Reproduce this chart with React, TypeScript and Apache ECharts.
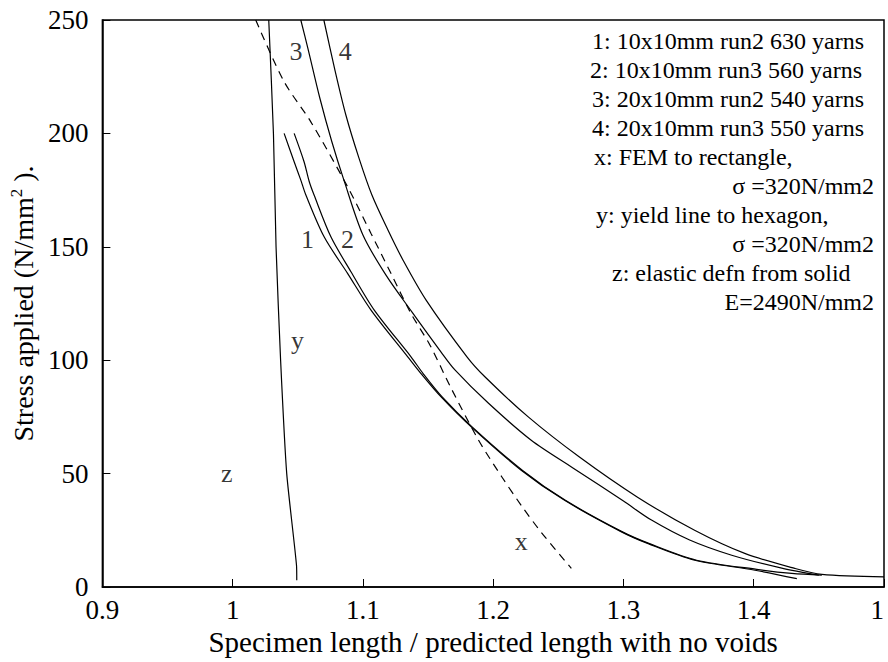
import React, { useEffect, useRef } from "react";
import * as echarts from "echarts";

// ---- data ----
const xTickLabels = ["0.9", "1", "1.1", "1.2", "1.3", "1.4", "1"];
const yTickValues = [0, 50, 100, 150, 200, 250];

const curve1X = [1.0395, 1.0472, 1.0523, 1.0562, 1.0702, 1.0882, 1.1062, 1.1344, 1.1446, 1.16, 1.1831, 1.2215, 1.2548, 1.2985, 1.319, 1.3548, 1.401, 1.4331];
const curve1Y = [200, 187.5, 179.4, 172.8, 154.4, 138.3, 122.1, 101.5, 94.1, 83.8, 70.6, 51.5, 38.2, 24.3, 19.1, 11.8, 7.4, 3.7];

const curve2X = [1.0472, 1.0548, 1.0587, 1.0625, 1.0754, 1.0908, 1.1087, 1.1369, 1.1462, 1.1608, 1.1838, 1.2223, 1.2554, 1.2992, 1.32, 1.3562, 1.4023, 1.4292, 1.4523];
const curve2Y = [200, 187.5, 178.9, 172.8, 154.4, 139.0, 122.1, 101.5, 94.1, 83.8, 70.6, 51.5, 38.2, 24.3, 19.1, 11.8, 7.8, 6.0, 5.2];

const curve3X = [1.0523, 1.0577, 1.0669, 1.0762, 1.0854, 1.1, 1.1177, 1.1377, 1.16, 1.1708, 1.1962, 1.2292, 1.2615, 1.3, 1.3215, 1.3508, 1.3831, 1.4215, 1.45];
const curve3Y = [250, 237.6, 215.6, 196.2, 179.4, 155.2, 137.5, 121.2, 103.6, 95.6, 81.1, 64.7, 52.4, 37.9, 29.5, 20.7, 14.0, 8.3, 5.2];

const curve4X = [1.07, 1.0785, 1.0869, 1.0969, 1.1069, 1.1192, 1.1308, 1.1485, 1.18, 1.1938, 1.2269, 1.2662, 1.3108, 1.3546, 1.3931, 1.4315, 1.4523, 1.5];
const curve4Y = [250, 227.9, 208.1, 189.2, 172.8, 157.4, 144.1, 126.5, 101.4, 92.6, 75.0, 57.3, 39.6, 25.0, 14.8, 8.2, 5.6, 4.5];

const femX = [1.0177, 1.0395, 1.06, 1.0882, 1.1062, 1.1215, 1.1369, 1.1515, 1.1672, 1.1888, 1.2068, 1.2215, 1.2369, 1.26];
const femY = [250, 222.8, 205.1, 176.5, 155.9, 138.3, 120.6, 106.6, 88.2, 64.7, 48.4, 36.0, 24.1, 8.2];

const yieldX = [1.0277, 1.0313, 1.0333, 1.0368, 1.0415, 1.049, 1.0492];
const yieldY = [250, 200, 150, 100, 50, 9.6, 3];

const curveLabelNames = ["3", "4", "1", "2", "y", "z", "x"];
const curveLabelX = [1.0487, 1.0864, 1.0574, 1.0882, 1.0498, 0.9954, 1.2215];
const curveLabelY = [236, 236, 153, 153, 108.8, 50, 19.9];

const legendLines = [
  "1: 10x10mm run2 630 yarns",
  "2: 10x10mm run3 560 yarns",
  "3: 20x10mm run2 540 yarns",
  "4: 20x10mm run3 550 yarns",
  "x: FEM to rectangle,",
  "σ =320N/mm2",
  "y: yield line to hexagon,",
  "σ =320N/mm2",
  "z: elastic defn from solid",
  "E=2490N/mm2",
];

const xTitle = "Specimen length / predicted length with no voids";
const yTitle = "Stress applied (N/mm{sup|2} ).";

// ---- layout / style ----
const FONT = "Liberation Serif, Times New Roman, serif";
const legendLayout: { x: number; align: "left" | "right" }[] = [
  { x: 592, align: "left" },
  { x: 590, align: "left" },
  { x: 592, align: "left" },
  { x: 592, align: "left" },
  { x: 594, align: "left" },
  { x: 874, align: "right" },
  { x: 596, align: "left" },
  { x: 874, align: "right" },
  { x: 612, align: "left" },
  { x: 874, align: "right" },
];

const zip = (xs: number[], ys: number[]) => xs.map((x, i) => [x, ys[i]]);

export default function App() {
  const ref = useRef<HTMLDivElement>(null);
  useEffect(() => {
    document.body.style.margin = "0";
    if (!ref.current) return;
    const chart = echarts.init(ref.current, null, { renderer: "svg" });
    const lineBase = {
      type: "line" as const,
      showSymbol: false,
      symbol: "none",
      smooth: 0.3,
      lineStyle: { color: "#000", width: 1.2 },
      silent: true,
    };
    const option: any = {
      animation: false,
      backgroundColor: "#fff",
      textStyle: { fontFamily: FONT },
      grid: { left: 102, right: 4, top: 20, bottom: 75, show: true, borderColor: "#000", borderWidth: 1.5, backgroundColor: "transparent" },
      xAxis: {
        type: "value",
        min: 0.9,
        max: 1.5,
        interval: 0.1,
        axisLine: { show: true, lineStyle: { color: "#000", width: 1.5 } },
        axisTick: { show: true, inside: true, length: 8, lineStyle: { color: "#000", width: 1 } },
        splitLine: { show: false },
        axisLabel: {
          color: "#000",
          fontSize: 27,
          fontFamily: FONT,
          margin: 9,
          showMaxLabel: true,
          showMinLabel: true,
          alignMaxLabel: "right",
          formatter: (v: number) => xTickLabels[Math.round((v - 0.9) / 0.1)] ?? "",
        },
        name: xTitle,
        nameLocation: "middle",
        nameGap: 40,
        nameTextStyle: { color: "#000", fontSize: 29, fontFamily: FONT },
      },
      yAxis: {
        type: "value",
        min: yTickValues[0],
        max: yTickValues[yTickValues.length - 1],
        interval: 50,
        axisLine: { show: true, lineStyle: { color: "#000", width: 1.5 } },
        axisTick: { show: true, inside: true, length: 8, lineStyle: { color: "#000", width: 1 } },
        splitLine: { show: false },
        axisLabel: { color: "#000", fontSize: 27, fontFamily: FONT, margin: 14 },
        name: yTitle,
        nameLocation: "middle",
        nameGap: 60,
        nameTextStyle: {
          color: "#000",
          fontSize: 28,
          fontFamily: FONT,
          rich: {
            sup: { fontSize: 17, fontFamily: FONT, color: "#000", verticalAlign: "top", lineHeight: 30 },
          },
        },
      },
      series: [
        { ...lineBase, name: "1", data: zip(curve1X, curve1Y) },
        { ...lineBase, name: "2", data: zip(curve2X, curve2Y) },
        { ...lineBase, name: "3", data: zip(curve3X, curve3Y) },
        { ...lineBase, name: "4", data: zip(curve4X, curve4Y) },
        { ...lineBase, name: "x", smooth: 0.3, data: zip(femX, femY), lineStyle: { color: "#000", width: 1.2, type: [8, 6] } },
        { ...lineBase, name: "y", smooth: 0.2, data: zip(yieldX, yieldY) },
        {
          type: "scatter",
          name: "labels",
          silent: true,
          symbolSize: 1,
          itemStyle: { color: "rgba(0,0,0,0)" },
          label: {
            show: true,
            position: "inside",
            formatter: "{b}",
            color: "#000",
            fontSize: 26,
            fontFamily: FONT,
          },
          data: curveLabelNames.map((n, i) => ({ name: n, value: [curveLabelX[i], curveLabelY[i]] })),
        },
      ],
      graphic: legendLines.map((t, i) => ({
        type: "text",
        x: legendLayout[i].x,
        y: 41 + i * 29,
        silent: true,
        style: {
          text: t,
          fill: "#000",
          fontSize: 24,
          fontFamily: FONT,
          align: legendLayout[i].align,
          verticalAlign: "middle",
        },
      })),
    };
    chart.setOption(option);
    return () => chart.dispose();
  }, []);
  return <div ref={ref} style={{ width: 888, height: 662 }} />;
}
